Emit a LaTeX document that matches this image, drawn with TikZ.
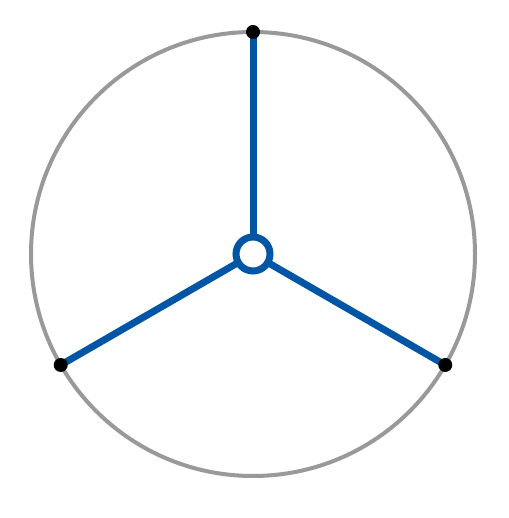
\documentclass[tikz,border=0pt]{standalone}
\usepackage{tikz}
\definecolor{spokeblue}{RGB}{0,85,164}
\definecolor{rimgray}{RGB}{153,153,153}
\begin{document}
\begin{tikzpicture}[x=1pt,y=1pt]
\tikzstyle{hub}=[circle, draw=spokeblue, fill=white, line width=7pt, minimum size=34pt, inner sep=0pt]
\tikzstyle{tip}=[circle, fill=black, minimum size=14pt, inner sep=0pt]
\tikzstyle{spoke}=[spokeblue, line width=7pt]
\useasboundingbox (0,0) rectangle (508,518);

    \coordinate (c) at (253,264);
    \path (c) ++(90:222) coordinate (ptop);
    \path (c) ++(210:222) coordinate (pleft);
    \path (c) ++(330:222) coordinate (pright);

\draw[rimgray, line width=4pt] (c) circle (222);

\draw[spoke] (c)--(ptop);
\draw[spoke] (c)--(pleft);
\draw[spoke] (c)--(pright);

\node[hub] (H) at (c) {};
\node[tip] (T) at (ptop) {};
\node[tip] (L) at (pleft) {};
\node[tip] (R) at (pright) {};
\end{tikzpicture}
\end{document}
